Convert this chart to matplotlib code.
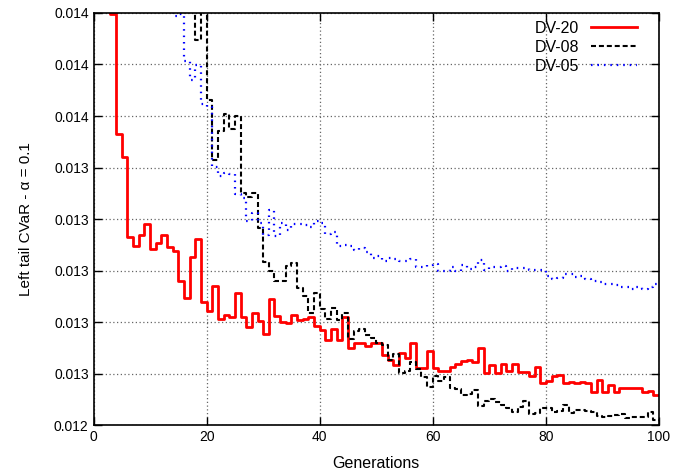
import matplotlib
matplotlib.use("Agg")
import matplotlib.pyplot as plt
from matplotlib.ticker import MultipleLocator, FormatStrFormatter

plt.rcParams['font.family'] = ['Liberation Sans', 'DejaVu Sans']

generations = list(range(0, 101))

# DV-20 (values above 0.014 are off the top of the plot)
dv20 = [0.01520, 0.01470, 0.01430, 0.013998, 0.013530, 0.013441, 0.013129, 0.013096, 0.013138, 0.013182,
        0.013083, 0.013106, 0.013139, 0.013092, 0.013075, 0.012958, 0.012894, 0.013054, 0.013121, 0.012878,
        0.012844, 0.012940, 0.012813, 0.012828, 0.012818, 0.012914, 0.012821, 0.012782, 0.012836, 0.012803,
        0.012753, 0.012888, 0.012823, 0.012800, 0.012797, 0.012828, 0.012807, 0.012812, 0.012818, 0.012786,
        0.012769, 0.012730, 0.012772, 0.012730, 0.012818, 0.012698, 0.012720, 0.012720, 0.012707, 0.012720,
        0.012720, 0.012672, 0.012652, 0.012633, 0.012678, 0.012661, 0.012717, 0.012620, 0.012623, 0.012689,
        0.012620, 0.012611, 0.012611, 0.012624, 0.012637, 0.012649, 0.012652, 0.012646, 0.012700, 0.012601,
        0.012633, 0.012601, 0.012637, 0.012611, 0.012636, 0.012607, 0.012607, 0.012592, 0.012626, 0.012564,
        0.012570, 0.012592, 0.012596, 0.012565, 0.012568, 0.012563, 0.012568, 0.012563, 0.012527, 0.012575,
        0.012527, 0.012555, 0.012530, 0.012543, 0.012542, 0.012544, 0.012543, 0.012530, 0.012532, 0.012518,
        0.012518]

dv08 = [0.01700, 0.01680, 0.01660, 0.01640, 0.01620, 0.01600, 0.01580, 0.01560, 0.01540, 0.01520,
        0.01500, 0.01480, 0.01460, 0.01450, 0.01440, 0.01430, 0.01420, 0.01415, 0.013895, 0.01410,
        0.013662, 0.013429, 0.013542, 0.013608, 0.013548, 0.013600, 0.013300, 0.013287, 0.013302, 0.013164,
        0.013034, 0.012997, 0.012958, 0.012959, 0.013017, 0.013028, 0.012931, 0.012901, 0.012834, 0.012911,
        0.012850, 0.012812, 0.012856, 0.012809, 0.012835, 0.012734, 0.012765, 0.012771, 0.012750, 0.012737,
        0.012720, 0.012712, 0.012652, 0.012676, 0.012603, 0.012611, 0.012646, 0.012616, 0.012588, 0.012548,
        0.012592, 0.012570, 0.012588, 0.012543, 0.012541, 0.012515, 0.012522, 0.012537, 0.012474, 0.012494,
        0.012500, 0.012491, 0.012478, 0.012466, 0.012452, 0.012469, 0.012494, 0.012442, 0.012448, 0.012468,
        0.012468, 0.012452, 0.012454, 0.012477, 0.012447, 0.012459, 0.012459, 0.012456, 0.012449, 0.012434,
        0.012433, 0.012434, 0.012440, 0.012442, 0.012428, 0.012430, 0.012433, 0.012433, 0.012451, 0.012421,
        0.012421]

dv05 = [0.01650, 0.01630, 0.01610, 0.01590, 0.01570, 0.01550, 0.01530, 0.01510, 0.01490, 0.01470,
        0.01450, 0.01430, 0.01420, 0.01410, 0.013990, 0.013996, 0.013814, 0.013740, 0.013798, 0.013647,
        0.013636, 0.013403, 0.013367, 0.013379, 0.013375, 0.013297, 0.013280, 0.013192, 0.013225, 0.013183,
        0.013138, 0.013235, 0.013134, 0.013186, 0.013157, 0.013179, 0.013182, 0.013178, 0.013168, 0.013193,
        0.013183, 0.013142, 0.013151, 0.013096, 0.013099, 0.013095, 0.013080, 0.013086, 0.013073, 0.013047,
        0.013056, 0.013035, 0.013047, 0.013043, 0.013037, 0.013037, 0.013046, 0.013014, 0.013014, 0.013023,
        0.013025, 0.012997, 0.012998, 0.013012, 0.012999, 0.013020, 0.013005, 0.013015, 0.013041, 0.013001,
        0.013014, 0.013015, 0.013016, 0.012999, 0.013009, 0.013009, 0.013009, 0.013002, 0.013002, 0.013002,
        0.012977, 0.012967, 0.012969, 0.012988, 0.012987, 0.012974, 0.012978, 0.012966, 0.012960, 0.012956,
        0.012948, 0.012946, 0.012943, 0.012935, 0.012935, 0.012930, 0.012935, 0.012930, 0.012935, 0.012946,
        0.012946]

fig = plt.figure(figsize=(7.0, 4.76), dpi=100)
ax = fig.add_axes([0.1336, 0.1071, 0.8078, 0.8656])

ax.step(generations, dv20, where='post', color='#ff0000', lw=2.0, label='DV-20')
ax.step(generations, dv08, where='post', color='black', lw=1.5, linestyle=(0, (2.4, 1.4)), label='DV-08')
ax.step(generations, dv05, where='post', color='#0000ff', lw=1.6, linestyle=(0, (0.7, 2.2)), label='DV-05')

ax.set_xlim(0, 100)
ax.set_ylim(0.0124, 0.0140)
ax.xaxis.set_major_locator(MultipleLocator(20))
ax.yaxis.set_major_locator(MultipleLocator(0.0002))
ax.yaxis.set_major_formatter(FormatStrFormatter('%.3f'))

ax.grid(True, color='#666666', linestyle=(0, (1, 2)), lw=0.9)
ax.tick_params(direction='in', top=True, right=True, length=6, width=1, labelsize=10)
for s in ax.spines.values():
    s.set_linewidth(1.2)

ax.set_xlabel('Generations', fontsize=11.5, labelpad=9)
ax.set_ylabel('Left tail CVaR - α = 0.1', fontsize=11, labelpad=15)

leg = ax.legend(loc='upper right', bbox_to_anchor=(0.975, 1.0), frameon=False, markerfirst=False,
                fontsize=11.5, handlelength=2.9, handletextpad=0.7, labelspacing=0.25, borderaxespad=0.1)

fig.savefig('out.png', dpi=100)
